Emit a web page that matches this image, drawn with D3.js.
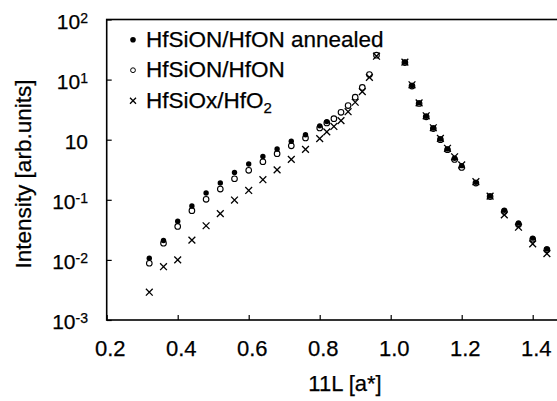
<!DOCTYPE html>
<html>
<head>
<meta charset="utf-8">
<title>11L rod scan</title>
<style>
body { margin: 0; background: #fff; }
text { font-family: "Liberation Sans", Arial, sans-serif; fill: #000; stroke: #000; stroke-width: 0.25px; }
</style>
<script src="https://d3js.org/d3.v7.min.js"></script>
</head>
<body>
<script>
// 11L positions (a*), shared by the three samples
var lValues = [0.32, 0.36, 0.40, 0.44, 0.48, 0.52, 0.56, 0.60, 0.64, 0.68, 0.72,
               0.76, 0.80, 0.82, 0.84, 0.86, 0.88, 0.90, 0.92, 0.94, 0.96,
               1.04, 1.06, 1.08, 1.10, 1.12, 1.14, 1.16, 1.18, 1.20, 1.24,
               1.28, 1.32, 1.36, 1.40, 1.44];
var annealed = [0.0107, 0.021, 0.044, 0.079, 0.13, 0.19, 0.285, 0.395, 0.525, 0.70, 0.94,
                1.21, 1.70, 2.0, null, null, null, null, null, null, null,
                19.5, 8.0, 4.1, 2.45, 1.57, 1.03, 0.70, 0.49, 0.37, 0.195,
                0.116, 0.067, 0.041, 0.023, 0.0152];
var asGrown = [0.0088, 0.019, 0.036, 0.066, 0.102, 0.151, 0.224, 0.309, 0.43, 0.585, 0.79,
               1.07, 1.57, 1.9, 2.24, 2.85, 3.69, 5.1, 7.4, 12.1, 25.5,
               19.2, 7.8, 4.0, 2.4, 1.53, 1.0, 0.68, 0.47, 0.345, 0.19,
               0.113, 0.064, 0.039, 0.022, 0.0148];
var oxide = [0.0029, 0.0077, 0.0100, 0.0213, 0.037, 0.059, 0.099, 0.143, 0.216, 0.315, 0.47,
             0.69, 1.04, 1.35, 1.66, 2.08, 2.92, 4.2, 6.3, 10.9, 24.5,
             19.5, 8.2, 4.1, 2.5, 1.58, 1.05, 0.72, 0.52, 0.38, 0.2,
             0.115, 0.056, 0.035, 0.0185, 0.0127];
var xTicks = [0.2, 0.4, 0.6, 0.8, 1.0, 1.2, 1.4];
var yExps = [2, 1, 0, -1, -2, -3];
var yLabels = ["2", "1", "", "-1", "-2", "-3"];
var legendNames = ["HfSiON/HfON annealed", "HfSiON/HfON", "HfSiOx/HfO"];

var W = 557, H = 401;
var padL = 106.7, padT = 19.5, padB = 320;

var x = d3.scaleLinear().domain([0.2, 1.6]).range([padL, padL + 497]);
var y = d3.scaleLog().domain([1e-3, 1e2]).range([padB, padT]);

var svg = d3.select("body").append("svg")
    .attr("width", W)
    .attr("height", H);

// frame
svg.append("rect")
    .attr("x", x(0.2))
    .attr("y", y(1e2))
    .attr("width", x(1.6) - x(0.2))
    .attr("height", y(1e-3) - y(1e2))
    .attr("fill", "none")
    .attr("stroke", "#000")
    .attr("stroke-width", 1.6);

// inward ticks
svg.append("g")
    .attr("transform", "translate(0," + padB + ")")
    .call(d3.axisBottom(x).tickValues(xTicks).tickSize(-5).tickFormat(""))
    .call(function(g) {
        g.select(".domain").remove();
        g.selectAll(".tick line").attr("stroke-width", 1.2);
    });

svg.append("g")
    .attr("transform", "translate(" + padL + ",0)")
    .call(d3.axisLeft(y).tickValues(yExps.map(function(e) { return Math.pow(10, e); })).tickSize(-5).tickFormat(""))
    .call(function(g) {
        g.select(".domain").remove();
        g.selectAll(".tick line").attr("stroke-width", 1.2);
    });

// x tick labels
svg.append("g").selectAll("text")
    .data(xTicks)
    .enter().append("text")
    .attr("x", function(d) { return x(d) + 3.5; })
    .attr("y", 356)
    .attr("text-anchor", "middle")
    .attr("font-size", "22px")
    .text(function(d) { return d.toFixed(1); });

// y tick labels: 10 with superscript exponent
var yl = svg.append("g").selectAll("text")
    .data(yExps)
    .enter().append("text")
    .attr("x", 88)
    .attr("y", function(d) { return y(Math.pow(10, d)) + 9; })
    .attr("text-anchor", "end")
    .attr("font-size", "21px");
yl.append("tspan").text("10");
yl.append("tspan")
    .attr("font-size", "14px")
    .attr("dy", -6)
    .text(function(d, i) { return yLabels[i]; });

// axis titles
svg.append("text")
    .attr("x", 345)
    .attr("y", 391)
    .attr("text-anchor", "middle")
    .attr("font-size", "22px")
    .text("11L [a*]");

svg.append("text")
    .attr("transform", "translate(31," + 174 + ") rotate(-90)")
    .attr("text-anchor", "middle")
    .attr("font-size", "22.5px")
    .text("Intensity [arb.units]");

function pts(vals) {
    return lValues.map(function(l, i) { return {l: l, v: vals[i]}; })
        .filter(function(d) { return d.v != null; });
}

function cross(g, r) {
    g.append("path")
        .attr("d", "M" + (-r) + "," + (-r) + "L" + r + "," + r + "M" + (-r) + "," + r + "L" + r + "," + (-r))
        .attr("stroke", "#000")
        .attr("stroke-width", 1.3)
        .attr("fill", "none");
}

// filled dots
svg.append("g").selectAll("circle")
    .data(pts(annealed))
    .enter().append("circle")
    .attr("cx", function(d) { return x(d.l); })
    .attr("cy", function(d) { return y(d.v); })
    .attr("r", 2.7)
    .attr("fill", "#000");

// open circles
svg.append("g").selectAll("circle")
    .data(pts(asGrown))
    .enter().append("circle")
    .attr("cx", function(d) { return x(d.l); })
    .attr("cy", function(d) { return y(d.v); })
    .attr("r", 2.8)
    .attr("fill", "none")
    .attr("stroke", "#000")
    .attr("stroke-width", 1.1);

// crosses
svg.append("g").selectAll("g")
    .data(pts(oxide))
    .enter().append("g")
    .attr("transform", function(d) { return "translate(" + x(d.l) + "," + y(d.v) + ")"; })
    .each(function() { cross(d3.select(this), 3.4); });

// legend
var lg = svg.append("g").selectAll("g")
    .data(legendNames)
    .enter().append("g")
    .attr("transform", function(d, i) { return "translate(133," + (46.7 + i * 30.5) + ")"; });

lg.each(function(d, i) {
    var g = d3.select(this);
    if (i == 0) {
        g.append("circle").attr("cy", -7).attr("r", 2.8).attr("fill", "#000");
    } else if (i == 1) {
        g.append("circle").attr("cy", -7).attr("r", 2.4).attr("fill", "#fff")
            .attr("stroke", "#000").attr("stroke-width", 1);
    } else {
        var c = g.append("g").attr("transform", "translate(0,-7)");
        cross(c, 3);
    }
    var t = g.append("text")
        .attr("x", 13)
        .attr("font-size", "22.5px")
        .text(d);
    if (i == 2) {
        t.append("tspan").attr("font-size", "15px").attr("dy", 5).text("2");
    }
});
</script>
</body>
</html>
